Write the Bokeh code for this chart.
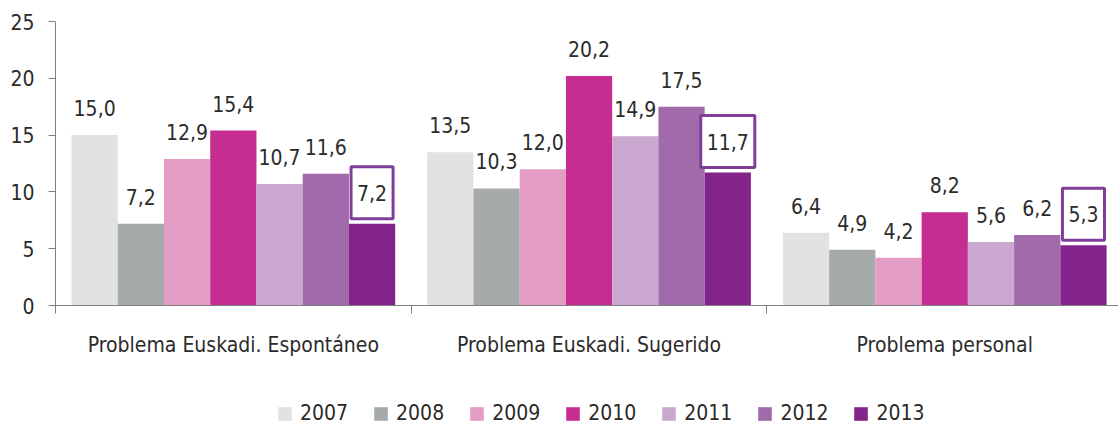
from bokeh.plotting import figure
from bokeh.layouts import column
from bokeh.models import ColumnDataSource, FixedTicker, Legend, LegendItem, Range1d
from bokeh.core.properties import value
from bokeh.embed import file_html
from bokeh.resources import INLINE

categories = ["Problema Euskadi. Espontáneo", "Problema Euskadi. Sugerido", "Problema personal"]
years = ["2007", "2008", "2009", "2010", "2011", "2012", "2013"]
colors = ["#e2e2e2", "#a7aaab", "#e39dc5", "#c62d91", "#cba8d0", "#a06aab", "#82248a"]
values = {
    "2007": [15.0, 13.5, 6.4],
    "2008": [7.2, 10.3, 4.9],
    "2009": [12.9, 12.0, 4.2],
    "2010": [15.4, 20.2, 8.2],
    "2011": [10.7, 14.9, 5.6],
    "2012": [11.6, 17.5, 6.2],
    "2013": [7.2, 11.7, 5.3],
}
y_ticks = [0, 5, 10, 15, 20, 25]

FONT = "DejaVu Sans Condensed, Liberation Sans Narrow, Roboto"
TXT = "#2b2b2b"
W = 1118

p = figure(width=W, height=374, output_backend="svg", toolbar_location=None,
           x_range=Range1d(0, (W - 55) / 355.7), y_range=Range1d(0, 25),
           min_border_left=55, min_border_top=21, min_border_right=0,
           min_border_bottom=69)
p.outline_line_color = None
p.xgrid.visible = False
p.ygrid.visible = False

bw = 0.13
for j, yr in enumerate(years):
    xs = [i + 0.5 + (j - 3) * bw for i in range(len(categories))]
    vals = values[yr]
    labels = [f"{v:.1f}".replace(".", ",") for v in vals]
    src = ColumnDataSource(dict(x=xs, top=vals, lab=labels))
    p.vbar(x="x", top="top", width=bw, bottom=0, source=src,
           fill_color=colors[j], line_color=None)
    if yr == "2013":
        p.text(x="x", y="top", text="lab", source=src, text_align="center",
               text_baseline="middle", y_offset=-31, text_font=value(FONT),
               text_font_size="21px", text_color=TXT,
               background_fill_color="white", border_line_color="#7f3f98",
               border_line_width=3,
               padding=dict(left=6, right=6, top=18, bottom=18))
    else:
        p.text(x="x", y="top", text="lab", source=src, text_align="center",
               text_baseline="middle", y_offset=-27, text_font=value(FONT),
               text_font_size="21px", text_color=TXT)

# y axis
ya = p.yaxis[0]
ya.ticker = FixedTicker(ticks=y_ticks)
ya.axis_line_color = "#808080"
ya.major_tick_line_color = "#808080"
ya.major_tick_in = 0
ya.major_tick_out = 7
ya.minor_tick_line_color = None
ya.major_label_text_font = FONT
ya.major_label_text_font_size = "21px"
ya.major_label_text_color = TXT
ya.major_label_standoff = 14

# x axis
xa = p.xaxis[0]
xa.ticker = FixedTicker(ticks=[i + 0.5 for i in range(len(categories))],
                        minor_ticks=[0, 1, 2, 3])
xa.major_label_overrides = {i + 0.5: c for i, c in enumerate(categories)}
xa.axis_line_color = "#808080"
xa.major_tick_line_color = None
xa.major_tick_in = 0
xa.major_tick_out = 0
xa.minor_tick_line_color = "#808080"
xa.minor_tick_in = 0
xa.minor_tick_out = 8
xa.major_label_text_font = FONT
xa.major_label_text_font_size = "21px"
xa.major_label_text_color = TXT
xa.major_label_standoff = 19

# legend in a strip below (proxy bars of zero height)
lg = figure(width=W, height=52, output_backend="svg", toolbar_location=None,
            x_range=Range1d(0, 1), y_range=Range1d(0, 1),
            x_axis_location=None, y_axis_location=None,
            min_border_left=0, min_border_right=0, min_border_top=0,
            min_border_bottom=0)
lg.outline_line_color = None
lg.xgrid.visible = False
lg.ygrid.visible = False
items = []
for j, yr in enumerate(years):
    r = lg.vbar(x=[0], top=[0], bottom=0, width=0.01,
                fill_color=colors[j], line_color=None)
    items.append(LegendItem(label=yr, renderers=[r]))
legend = Legend(items=items, orientation="horizontal", location=(221, 1),
                label_text_font=FONT, label_text_font_size="21px",
                label_text_color=TXT, glyph_width=17, glyph_height=17,
                label_standoff=7, spacing=24, border_line_color=None,
                background_fill_alpha=0, padding=0, margin=0)
lg.add_layout(legend, "center")

open("out.html", "w").write(file_html(column(p, lg, spacing=0), INLINE))
